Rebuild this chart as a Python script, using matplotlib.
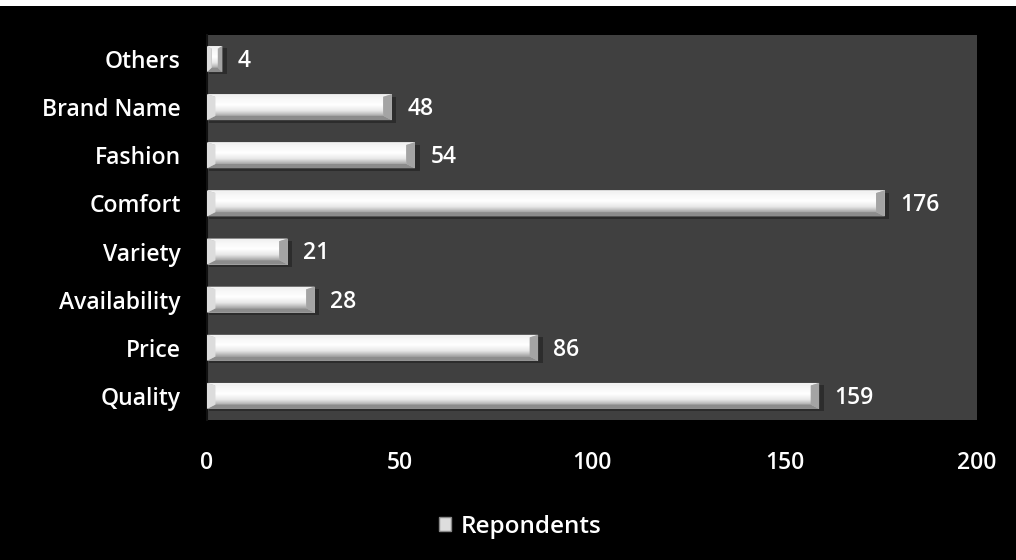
import matplotlib
matplotlib.use("Agg")
import matplotlib.pyplot as plt
import numpy as np
from matplotlib.patches import Rectangle, Polygon, Patch

categories = ["Quality", "Price", "Availability", "Variety", "Comfort", "Fashion", "Brand Name", "Others"]
values = [159, 86, 28, 21, 176, 54, 48, 4]
xticks = [0, 50, 100, 150, 200]
series_name = "Repondents"

plt.rcParams['font.family'] = ['Open Sans', 'DejaVu Sans']
plt.rcParams['font.weight'] = 'semibold'

W, H = 1016, 560
fig = plt.figure(figsize=(W / 100, H / 100), dpi=100, facecolor='black')
# white strip at top
fig.patches.append(Rectangle((0, 1 - 6 / H), 1, 6 / H, transform=fig.transFigure,
                             facecolor='white', edgecolor='none', zorder=0))

ax = fig.add_axes([207 / W, 1 - 420 / H, (977 - 207) / W, (420 - 35) / H])
ax.set_facecolor('#404040')
for s in ax.spines.values():
    s.set_visible(False)
ax.spines['left'].set_visible(True)
ax.spines['left'].set_color('#111111')
ax.spines['left'].set_linewidth(1.5)

y = np.arange(len(categories))
h = 0.54
ax.set_xlim(0, 200)
ax.set_ylim(-0.5, len(categories) - 0.5)

# shadow
ax.barh(y - 0.05, np.array(values) + 0.8, height=h, left=0.4, color='#2c2c2c', zorder=1)
# base bar (edge tone)
ax.barh(y, values, height=h, color='#b8b8b8', zorder=2)

grad = np.linspace(1, 0, 64).reshape(-1, 1)
cmap = matplotlib.colors.LinearSegmentedColormap.from_list(
    'g', [(0, '#a8a8a8'), (0.25, '#e6e6e6'), (0.55, '#ffffff'), (1, '#f4f4f4')])
for yi, v in zip(y, values):
    bevel = min(2.2, v * 0.3)
    dy = 0.09
    ax.imshow(grad, extent=(bevel, v - bevel, yi - h / 2 + dy, yi + h / 2 - dy * 0.6),
              aspect='auto', cmap=cmap, vmin=0, vmax=1, zorder=3, interpolation='bilinear')
    ax.add_patch(Polygon([(0, yi + h / 2), (v, yi + h / 2), (v - bevel, yi + h / 2 - dy * 0.6),
                          (bevel, yi + h / 2 - dy * 0.6)], closed=True, facecolor='#f2f2f2',
                         edgecolor='none', zorder=4))
    ax.add_patch(Polygon([(0, yi - h / 2), (v, yi - h / 2), (v - bevel, yi - h / 2 + dy),
                          (bevel, yi - h / 2 + dy)], closed=True, facecolor='#8c8c8c',
                         edgecolor='none', zorder=4))
    ax.add_patch(Polygon([(v, yi + h / 2), (v, yi - h / 2), (v - bevel, yi - h / 2 + dy),
                          (v - bevel, yi + h / 2 - dy * 0.6)], closed=True, facecolor='#a4a4a4',
                         edgecolor='none', zorder=4))
    ax.add_patch(Polygon([(0, yi + h / 2), (0, yi - h / 2), (bevel, yi - h / 2 + dy),
                          (bevel, yi + h / 2 - dy * 0.6)], closed=True, facecolor='#dcdcdc',
                         edgecolor='none', zorder=4))
    ax.text(v + 4.0, yi - 0.04, str(v), color='white', fontsize=16.5, va='center', ha='left', zorder=5)

ax.set_yticks(y)
ax.set_yticklabels(categories, color='white', fontsize=16.5)
ax.set_xticks(xticks)
ax.set_xticklabels([str(t) for t in xticks], color='white', fontsize=16.5)
ax.tick_params(axis='y', length=0, pad=19)
ax.tick_params(axis='x', length=0, pad=22)

fig.legend(handles=[Patch(facecolor='#dddddd', edgecolor='#888888', label=series_name)],
           loc='center', bbox_to_anchor=(520 / W, 1 - 527 / H), frameon=False,
           labelcolor='white', fontsize=17.5, handlelength=0.5, handleheight=0.5,
           handletextpad=0.4)

fig.savefig('out.png', dpi=100, facecolor='black')
